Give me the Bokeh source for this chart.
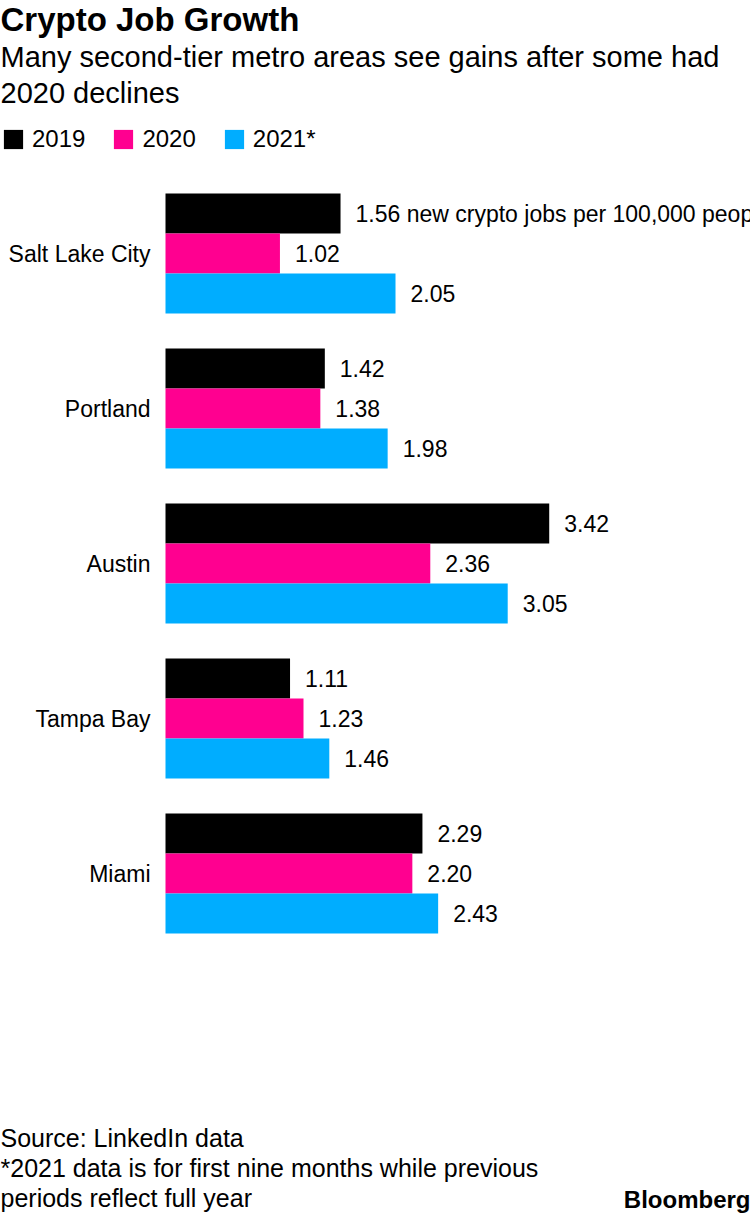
from bokeh.plotting import figure
from bokeh.models import Range1d, Label, Legend, LegendItem, ColumnDataSource
from bokeh.transform import dodge
from bokeh.embed import file_html
from bokeh.resources import INLINE
from bokeh.core.properties import value

# ---- data ----
cities = ["Salt Lake City", "Portland", "Austin", "Tampa Bay", "Miami"]
years = ["2019", "2020", "2021*"]
v2019 = [1.56, 1.42, 3.42, 1.11, 2.29]
v2020 = [1.02, 1.38, 2.36, 1.23, 2.20]
v2021 = [2.05, 1.98, 3.05, 1.46, 2.43]
first_suffix = " new crypto jobs per 100,000 people"

title = "Crypto Job Growth"
subtitle = ["Many second-tier metro areas see gains after some had", "2020 declines"]
footer = ["Source: LinkedIn data",
          "*2021 data is for first nine months while previous",
          "periods reflect full year"]
brand = "Bloomberg"

colors = ["#000000", "#ff0090", "#00adff"]
FONT = "Liberation Sans"

# ---- layout (pixels) ----
W, H = 750, 1214
LEFT = 165            # where value 0 sits
PX_PER_UNIT = 112.2   # pixels per unit of value
FIRST_CENTER = 253    # pixel row of the first group's centre
GROUP = 155           # pixels per group
BAR_H = 40 / GROUP

def fmt(vals, suffix=""):
    out = ["%.2f" % v for v in vals]
    out[0] = out[0] + suffix
    return out

n = len(cities)
ypos = [n - 1 - i for i in range(n)]

src = ColumnDataSource(dict(
    city=cities, y=ypos, v2019=v2019, v2020=v2020, v2021=v2021,
    l2019=fmt(v2019, first_suffix), l2020=fmt(v2020), l2021=fmt(v2021),
    zero=[0] * n,
))

top_val = (n - 1) + FIRST_CENTER / GROUP
bot_val = (n - 1) - (H - FIRST_CENTER) / GROUP

p = figure(width=W, height=H,
           x_range=Range1d(-LEFT / PX_PER_UNIT, (W - LEFT) / PX_PER_UNIT),
           y_range=Range1d(bot_val, top_val),
           x_axis_location=None, y_axis_location=None,
           output_backend="svg", toolbar_location=None,
           min_border=0)
p.outline_line_color = None
p.grid.visible = False
p.background_fill_color = "white"
p.border_fill_color = "white"

renderers = []
for col, lab, off, c in [("v2019", "l2019", BAR_H, colors[0]),
                         ("v2020", "l2020", 0, colors[1]),
                         ("v2021", "l2021", -BAR_H, colors[2])]:
    r = p.hbar(y=dodge("y", off), left=0, right=col,
               height=BAR_H, fill_color=c, line_color=None, source=src)
    renderers.append(r)
    p.text(x=col, y=dodge("y", off), text=lab, source=src,
           x_offset=15, text_baseline="middle", text_align="left",
           text_font=value(FONT), text_font_size="23px", text_color="#000000")

# category labels
p.text(x="zero", y="y", text="city", source=src, x_offset=-15,
       text_baseline="middle", text_align="right",
       text_font=value(FONT), text_font_size="23px", text_color="#000000")

def lab(text, cx, cy, size, bold=False, align="left"):
    p.add_layout(Label(x=cx, y=H - cy, x_units="screen", y_units="screen",
                       text=text, text_baseline="middle", text_align=align,
                       text_font=FONT, text_font_size=size,
                       text_font_style="bold" if bold else "normal",
                       text_color="#000000"))

lab(title, 0, 19, "33px", bold=True)
lab(subtitle[0], 0, 56, "29px")
lab(subtitle[1], 0, 92, "29px")
for i, t in enumerate(footer):
    lab(t, 0, 1137 + 30 * i, "25px")
lab(brand, W, 1199, "24px", bold=True, align="right")

legend = Legend(items=[LegendItem(label=y, renderers=[r]) for y, r in zip(years, renderers)],
                orientation="horizontal", location=(1, H - 153),
                glyph_width=24, glyph_height=24, label_height=17,
                label_standoff=7, spacing=26, padding=0, margin=0,
                border_line_color=None, background_fill_alpha=0,
                label_text_font=FONT, label_text_font_size="24px",
                label_text_color="#000000", label_text_baseline="middle")
p.add_layout(legend)

open("out.html", "w").write(file_html(p, INLINE))
